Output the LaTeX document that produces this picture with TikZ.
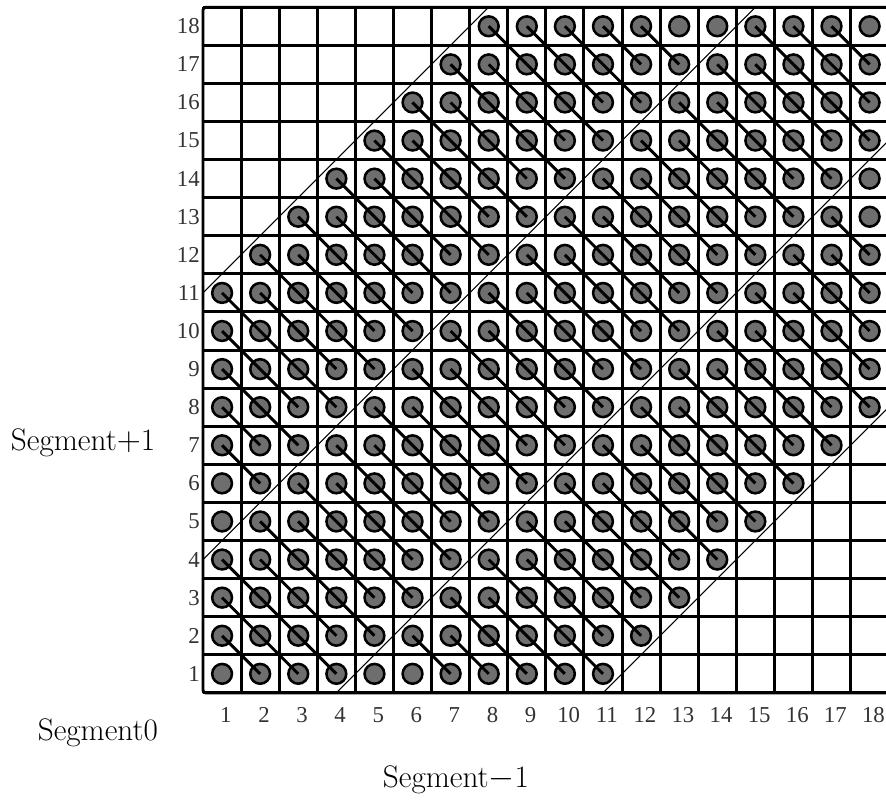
\documentclass[tikz,border=0pt]{standalone}
\usepackage{fontspec}
\newfontfamily\numfont{Liberation Serif}
\usepackage{tikz}

\begin{document}
\begin{tikzpicture}[
    cellline/.style={line width=2.2pt},
    band/.style={line width=0.8pt},
    dot/.style={circle, draw, fill=black!57, line width=1.9pt, minimum size=0.52cm, inner sep=0pt},
    link/.style={line width=2.2pt},
    num/.style={font=\numfont\fontsize{17}{20}\selectfont, text=black!80, inner sep=0pt},
    seg/.style={font=\fontsize{23.3}{27}\selectfont, inner sep=0pt}]
    \useasboundingbox (-5.33,-2.81) rectangle (17.93,18.19);

    % 1. Lưới ô vuông 18 x 18
    \draw[cellline] (0,0) grid (18,18);
    \draw[cellline, rounded corners=2pt] (0,0) rectangle (18,18);

    % 2. Các đường chéo mảnh chia đoạn
    \draw[band] (0,10.5) -- (7.5,18);
    \draw[band] (0,3.5) -- (14.5,18);
    \draw[band] (3.5,0) -- (18,14.5);
    \draw[band] (10.5,0) -- (18,7.5);

    % 3. Các điểm tròn trong dải |r - c| <= 10
    \foreach \c in {1,...,18}
      \foreach \r in {1,...,18}{
        \pgfmathtruncatemacro\d{abs(\r-\c)}
        \ifnum\d<11
          \node[dot] (p-\c-\r) at (\c-0.5,\r-0.5) {};
        \fi
      }

    % 4. Nối điểm (c,r) với (c+1,r-1), trừ chỗ cắt đường chéo
    \foreach \c in {1,...,17}
      \foreach \r in {2,...,18}{
        \pgfmathtruncatemacro\d{\r-\c}
        \pgfmathtruncatemacro\ok{(\d>-9)&&(\d<11)&&(\d!=4)&&(\d!=5)&&(\d!=-2)&&(\d!=-3)}
        \ifnum\ok=1
          \pgfmathtruncatemacro\cn{\c+1}
          \pgfmathtruncatemacro\rn{\r-1}
          \draw[link] (p-\c-\r.center) -- (p-\cn-\rn.center);
        \fi
      }

    % 5. Nhãn hàng, cột
    \foreach \r in {1,...,18}
      \node[num, anchor=east] (row-\r) at (-0.08,\r-0.5) {\r};
    \foreach \c in {1,...,18}
      \node[num] (col-\c) at (\c-0.4,-0.58) {\c};

    % 6. Nhãn đoạn
    \node[seg] (seg-plus) at (-3.15,6.56) {Segment$+$1};
    \node[seg] (seg-zero) at (-2.76,-1.05) {Segment0};
    \node[seg] (seg-minus) at (6.64,-2.28) {Segment$-$1};
\end{tikzpicture}
\end{document}
